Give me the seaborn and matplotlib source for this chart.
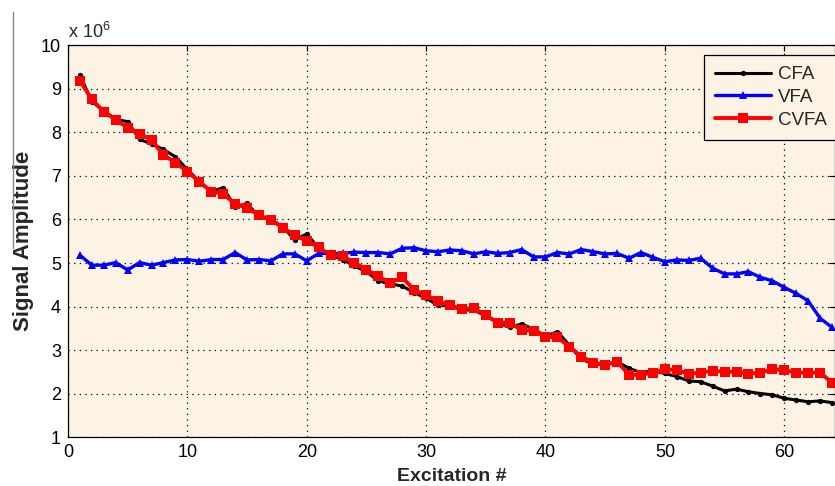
import numpy as np
import pandas as pd
import matplotlib
matplotlib.use('Agg')
import matplotlib.pyplot as plt
import seaborn as sns
from matplotlib.lines import Line2D

# signal amplitude (x 10^6) per excitation
excitation = list(range(1, 65))
cfa = [9.32, 8.71, 8.50, 8.30, 8.25, 7.84, 7.74, 7.61, 7.44, 7.15,
       6.87, 6.64, 6.73, 6.29, 6.37, 6.06, 6.00, 5.83, 5.53, 5.67,
       5.34, 5.18, 5.08, 4.93, 4.80, 4.59, 4.52, 4.47, 4.32, 4.19,
       4.03, 4.01, 3.92, 3.92, 3.78, 3.63, 3.52, 3.60, 3.48, 3.32,
       3.42, 3.11, 2.79, 2.68, 2.66, 2.73, 2.58, 2.48, 2.52, 2.46,
       2.39, 2.29, 2.27, 2.17, 2.06, 2.10, 2.04, 2.00, 1.97, 1.89,
       1.85, 1.81, 1.83, 1.79]
vfa = [5.18, 4.95, 4.95, 5.01, 4.84, 5.01, 4.95, 5.01, 5.07, 5.08,
       5.04, 5.08, 5.08, 5.24, 5.07, 5.08, 5.05, 5.21, 5.21, 5.05,
       5.22, 5.22, 5.22, 5.25, 5.24, 5.24, 5.21, 5.34, 5.35, 5.28,
       5.26, 5.30, 5.28, 5.21, 5.26, 5.22, 5.24, 5.31, 5.14, 5.14,
       5.24, 5.21, 5.31, 5.26, 5.21, 5.22, 5.11, 5.24, 5.13, 5.03,
       5.07, 5.06, 5.11, 4.88, 4.75, 4.75, 4.80, 4.67, 4.59, 4.44,
       4.30, 4.13, 3.73, 3.52]
cvfa = [9.19, 8.76, 8.48, 8.29, 8.11, 7.97, 7.83, 7.48, 7.31, 7.10,
        6.87, 6.64, 6.59, 6.36, 6.26, 6.10, 5.99, 5.81, 5.64, 5.51,
        5.36, 5.18, 5.16, 5.01, 4.85, 4.69, 4.55, 4.67, 4.38, 4.26,
        4.13, 4.03, 3.94, 3.96, 3.80, 3.63, 3.63, 3.46, 3.44, 3.31,
        3.29, 3.08, 2.85, 2.71, 2.66, 2.73, 2.43, 2.43, 2.48, 2.56,
        2.54, 2.45, 2.48, 2.52, 2.50, 2.50, 2.45, 2.48, 2.56, 2.54,
        2.48, 2.48, 2.48, 2.25]

sns.set_style('white')
plt.rcParams['font.family'] = ['Liberation Sans', 'DejaVu Sans']
plt.rcParams['mathtext.fontset'] = 'custom'
plt.rcParams['mathtext.rm'] = 'Liberation Sans'

fig = plt.figure(figsize=(8.35, 4.86), dpi=100)
ax = fig.add_axes([0.0814, 0.1008, 0.9186, 0.8056])
ax.set_facecolor('#FCF3E5')

sns.lineplot(x=excitation, y=cfa, ax=ax, color='black', linewidth=2.2,
             marker='o', markersize=3.8, markeredgewidth=0, label='CFA')
sns.lineplot(x=excitation, y=vfa, ax=ax, color='#0000FF', linewidth=2.4,
             marker='^', markersize=5.5, markeredgewidth=0, label='VFA')
sns.lineplot(x=excitation, y=cvfa, ax=ax, color='#FF0000', linewidth=2.8,
             marker='s', markersize=6.5, markeredgewidth=0, label='CVFA')

ax.set_xlim(0, 64.25)
ax.set_ylim(1, 10)
ax.set_xticks(range(0, 61, 10))
ax.set_yticks(range(1, 11))
ax.grid(True, color='black', linestyle=(0, (1, 3.5)), linewidth=0.9)
ax.tick_params(direction='in', length=4, width=0.8, top=True, right=True,
               labelsize=13, colors='black', pad=5)
for s in ax.spines.values():
    s.set_color('black')
    s.set_linewidth(0.9)

ax.set_xlabel('Excitation #', fontsize=14, fontweight='bold', labelpad=5)
ax.set_ylabel('Signal Amplitude', fontsize=16, fontweight='bold', labelpad=5)
ax.text(0.0, 1.01, r'x 10$^{6}$', transform=ax.transAxes, fontsize=13,
        ha='left', va='bottom')

leg = ax.legend(loc='upper left', bbox_to_anchor=(0.829, 0.976), fontsize=13.5,
                frameon=True, fancybox=False, edgecolor='black',
                facecolor='#FCF3E5', framealpha=1, handlelength=3.0,
                handletextpad=0.37, borderpad=0.6, labelspacing=0.3,
                borderaxespad=0)
leg.get_frame().set_linewidth(0.9)

# grey border fragment at the left of the picture
fig.add_artist(Line2D([0.0152, 0.0152], [0.975, 0.49], color='#888888',
                      linewidth=1.0))

fig.savefig('out.png', dpi=100)
